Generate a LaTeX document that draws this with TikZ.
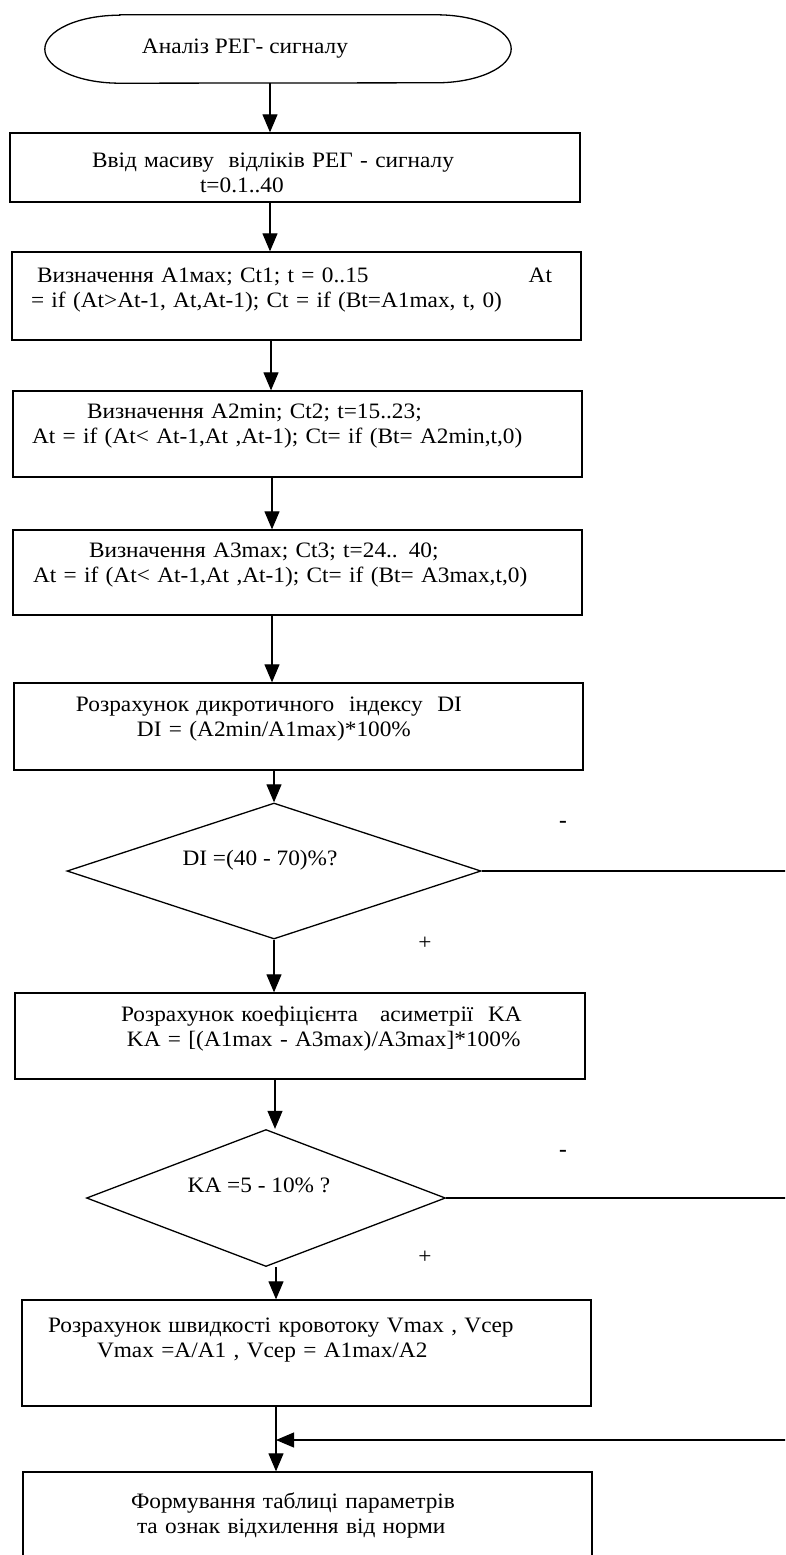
\documentclass[tikz,border=0pt]{standalone}
\usepackage{fontspec}
\setmainfont[FakeStretch=1.06]{Liberation Serif}
\usetikzlibrary{arrows.meta,shapes.geometric}
\newcommand{\ind}[1]{\hspace*{#1pt}}
\newcommand{\lift}[1]{\par\kern#1pt\hrule height 0pt}
\tikzset{
  every node/.style={font=\fontsize{22pt}{25pt}\selectfont, inner sep=0pt},
  box/.style={draw, line width=1.3pt, rectangle, align=left},
  dec/.style={draw, line width=1.3pt, diamond, aspect=3, text height=15pt, text depth=27pt},
  arr/.style={line width=1.1pt, -{Triangle[length=18pt,width=15pt]}},
  lin/.style={line width=1.1pt},
  sign/.style={}
}
\begin{document}
\begin{tikzpicture}[x=1pt,y=1pt]
\useasboundingbox (0,0) rectangle (785,-1555);
\clip (0,0) rectangle (785,-1555);
\fill[white] (0,0) rectangle (785,-1555);

% terminator
\node[minimum width=466pt, minimum height=68pt] (t) at (278,-49) {Аналіз РЕГ- сигналу\hspace*{66pt}};
\draw[line width=1.3pt] ([xshift=75pt]t.north west) -- ([xshift=-75pt]t.north east)
  arc[start angle=90,end angle=-90,x radius=75pt,y radius=34pt]
  -- ([xshift=75pt]t.south west)
  arc[start angle=270,end angle=90,x radius=75pt,y radius=34pt] -- cycle;

% process boxes
\node[box, minimum width=570pt, minimum height=69pt, text width=570pt] (b1) at (295,-167.5)
  {\ind{82}Ввід масиву\ \ відліків РЕГ - сигналу\\\ind{190}t=0.1..40\lift{-11}};
\node[box, minimum width=569pt, minimum height=88pt, text width=569pt] (b2) at (296.5,-296)
  {\ind{25}Визначення A1мах; Ct1; t = 0..15\hfill At\kern29pt\\\ind{19}= if (At>At-1, At,At-1); Ct = if (Bt=A1max, t, 0)\lift{12}};
\node[box, minimum width=569pt, minimum height=86pt, text width=569pt] (b3) at (297.5,-434)
  {\ind{74}Визначення A2min; Ct2; t=15..23;\\\ind{19}At = if (At< At-1,At ,At-1); Ct= if (Bt= A2min,t,0)\lift{15}};
\node[box, minimum width=569pt, minimum height=85pt, text width=569pt] (b4) at (297.5,-572.5)
  {\ind{76}Визначення A3max; Ct3; t=24.. 40;\\\ind{20}At = if (At< At-1,At ,At-1); Ct= if (Bt= A3max,t,0)\lift{14}};
\node[box, minimum width=569pt, minimum height=87pt, text width=569pt] (b5) at (298.5,-726.5)
  {\ind{62}Розрахунок дикротичного\ \ індексу\ \ DI\\\ind{123}DI = (A2min/A1max)*100\%\lift{15}};

% decision 1
\node[dec, minimum width=414pt, minimum height=136pt] (d1) at (274,-871) {DI =(40 - 70)\%?\hspace*{28pt}};
\node[box, minimum width=570pt, minimum height=86pt, text width=570pt] (b6) at (300,-1036)
  {\ind{106}Розрахунок коефіцієнта\ \ \ асиметрії\ \ KA\\\ind{112}KA = [(A1max - A3max)/A3max]*100\%\lift{14}};

% decision 2
\node[dec, minimum width=359pt, minimum height=137pt] (d2) at (266,-1198) {KA =5 - 10\% ?\hspace*{14pt}};
\node[box, minimum width=569pt, minimum height=106pt, text width=569pt] (b7) at (306.5,-1353)
  {\ind{26}Розрахунок швидкості кровотоку Vmax , Vcep\\\ind{75}Vmax =A/A1 , Vcep = A1max/A2\lift{26}};
\node[box, minimum width=569pt, minimum height=100pt, text width=569pt] (b8) at (307.5,-1522)
  {\ind{108}Формування таблиці параметрів\\\ind{114}та ознак відхилення від норми\lift{13}};

% branch labels
\node[sign] (m1) at (563,-824) {\bfseries -};
\node[sign] (p1) at (425,-943) {+};
\node[sign] (m2) at (563,-1153) {\bfseries -};
\node[sign] (p2) at (425,-1257) {+};

% free ends at the right edge
\coordinate (r1) at (787,-871);
\coordinate (r2) at (787,-1198);
\coordinate (r3) at (787,-1440);
\coordinate (j) at (276,-1440);

% connectors
\draw[arr] (t.south -| 270,0) -- (b1.north -| 270,0);
\draw[arr] (b1.south -| 270,0) -- (b2.north -| 270,0);
\draw[arr] (b2.south -| 271,0) -- (b3.north -| 271,0);
\draw[arr] (b3.south -| 272,0) -- (b4.north -| 272,0);
\draw[arr] (b4.south -| 272,0) -- (b5.north -| 272,0);
\draw[arr] (b5.south -| d1.north) -- (d1.north);
\draw[lin] (d1.east) -- (r1);
\draw[arr] (d1.south) -- (b6.north -| d1.south);
\draw[arr] (b6.south -| 275,0) -- (d2.north -| 275,0);
\draw[lin] (d2.east) -- (r2);
\draw[arr] (d2.south -| 276,0) -- (b7.north -| 276,0);
\draw[arr] (b7.south -| 276,0) -- (b8.north -| 276,0);
\draw[arr] (r3) -- (j);
\end{tikzpicture}
\end{document}
